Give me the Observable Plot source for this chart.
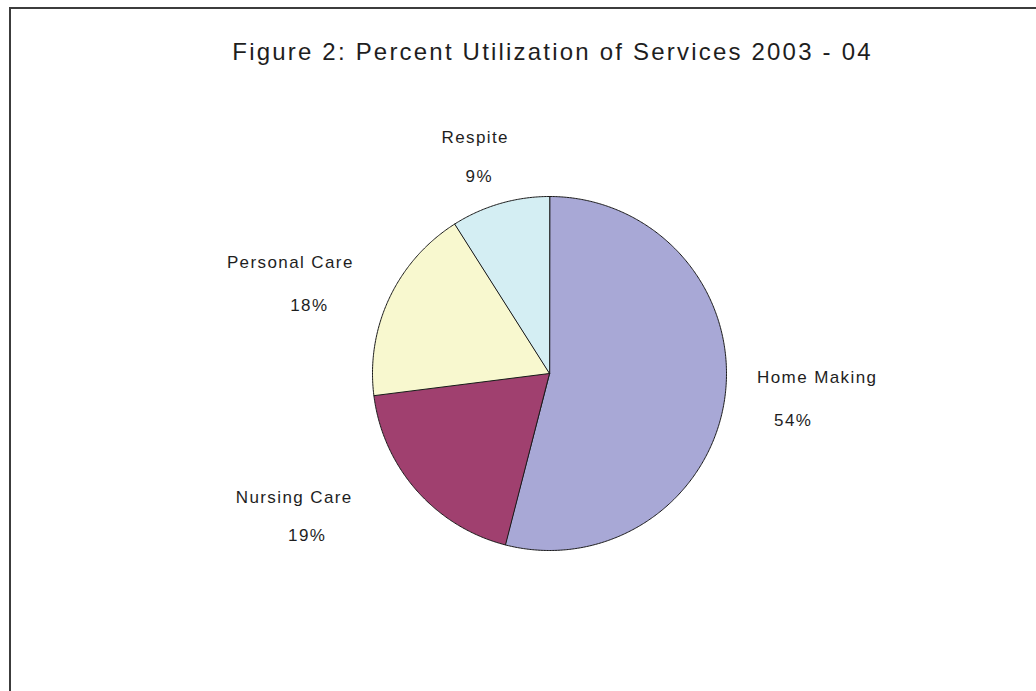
<!DOCTYPE html>
<html><head><meta charset="utf-8">
<script src="https://cdn.jsdelivr.net/npm/d3@7"></script>
<script src="https://cdn.jsdelivr.net/npm/@observablehq/plot@0.6"></script>
<style>
html,body{margin:0;padding:0;background:#fff;}
#wrap{position:relative;width:1036px;height:691px;overflow:hidden;background:#fff;}
#frame{position:absolute;left:9px;top:7px;width:1100px;height:800px;border-left:2px solid #3c3c3c;border-top:2px solid #3c3c3c;}
#chart{position:absolute;left:0;top:0;}
#chart g[font-size="24"] text{letter-spacing:2.2px;}
#chart g[font-size="17"] text{letter-spacing:1.4px;}
</style></head><body>
<div id="wrap"><div id="frame"></div><div id="chart"></div></div>
<script>
// ---- data ----
const title = "Figure 2: Percent Utilization of Services 2003 - 04";
const categories = ["Home Making", "Nursing Care", "Personal Care", "Respite"];
const percents = [54, 19, 18, 9];
const pctLabels = ["54%", "19%", "18%", "9%"];
const colors = ["#a8a8d6", "#a0406f", "#f8f8cf", "#d4eef3"];

// ---- layout ----
const W = 1036, H = 691, cx = 549, cy = 373, R = 177;
// pixel nudges of the labels relative to a point at 1.2 radius on each slice's mid-angle
const nameNudge = {"Home Making": [57, -23], "Nursing Care": [-96, -16], "Personal Care": [-67, -21], "Respite": [-15, -32]};
const pctNudge  = {"Home Making": [33, 20],  "Nursing Care": [-83, 22],  "Personal Care": [-48, 22],  "Respite": [-11, 7]};

const slices = [];
let cum = 0;
categories.forEach((c, i) => {
  const a0 = cum / 100 * 2 * Math.PI;
  cum += percents[i];
  const a1 = cum / 100 * 2 * Math.PI;
  slices.push({cat: c, pct: pctLabels[i], a0, a1, mid: (a0 + a1) / 2});
});
const pts = [];
for (const s of slices) {
  pts.push({cat: s.cat, x: 0, y: 0});
  const n = Math.max(2, Math.ceil((s.a1 - s.a0) / (Math.PI / 360)));
  for (let k = 0; k <= n; k++) {
    const a = s.a0 + (s.a1 - s.a0) * k / n;
    pts.push({cat: s.cat, x: Math.sin(a), y: Math.cos(a)});
  }
}
const nameLabels = slices.map(s => ({
  text: s.cat,
  x: 1.2 * Math.sin(s.mid) + nameNudge[s.cat][0] / R,
  y: 1.2 * Math.cos(s.mid) - nameNudge[s.cat][1] / R
}));
const pctLabelPts = slices.map(s => ({
  text: s.pct,
  x: 1.2 * Math.sin(s.mid) + pctNudge[s.cat][0] / R,
  y: 1.2 * Math.cos(s.mid) - pctNudge[s.cat][1] / R
}));

const chart = Plot.plot({
  width: W, height: H, margin: 0,
  x: {domain: [-cx / R, (W - cx) / R], axis: null},
  y: {domain: [-(H - cy) / R, cy / R], axis: null},
  color: {domain: categories, range: colors},
  style: {fontFamily: "'Liberation Sans', Arial, sans-serif", background: "transparent", color: "#1e1e1e"},
  marks: [
    Plot.line(pts, {x: "x", y: "y", z: "cat", fill: "cat", stroke: "#1a1a1a", strokeWidth: 1, curve: "linear-closed"}),
    Plot.text(nameLabels, {x: "x", y: "y", text: "text", fontSize: 17, fill: "#1e1e1e", lineAnchor: "middle"}),
    Plot.text(pctLabelPts, {x: "x", y: "y", text: "text", fontSize: 17, fill: "#1e1e1e", lineAnchor: "middle"}),
    Plot.text([title], {frameAnchor: "top", dy: 52, dx: 34, lineAnchor: "middle", fontSize: 24, fill: "#1e1e1e"})
  ]
});
document.getElementById("chart").appendChild(chart);
</script>
</body></html>
